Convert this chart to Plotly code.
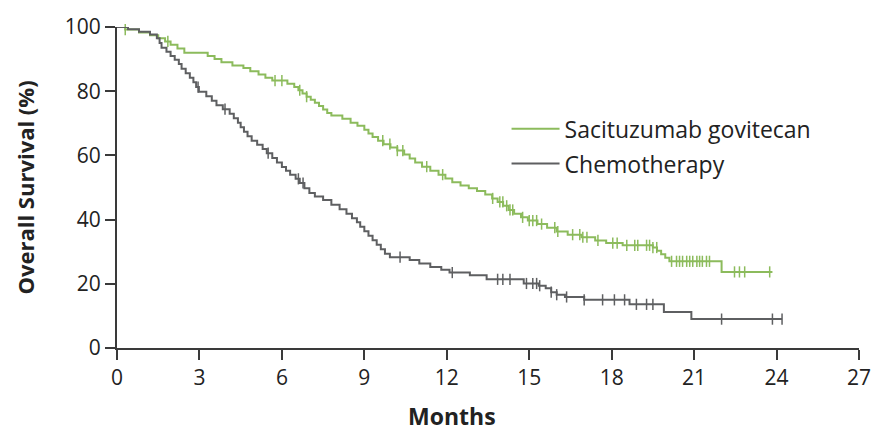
import numpy as np
import plotly.graph_objects as go

# ---- data ----
sg_time = [0, 0.3, 0.8, 1.2, 1.5, 1.75, 1.95, 2.2, 2.45, 3.3, 3.55, 3.8, 4.2, 4.6, 4.85,
           5.15, 5.4, 5.65, 6.2, 6.45, 6.6, 6.75, 6.9, 7.05, 7.2, 7.35, 7.5, 7.65, 7.8,
           8.2, 8.5, 8.75, 9.0, 9.15, 9.3, 9.5, 9.7, 9.95, 10.2, 10.45, 10.65, 10.85,
           11.1, 11.4, 11.7, 11.95, 12.2, 12.5, 12.8, 13.1, 13.4, 13.65, 13.85, 14.05,
           14.25, 14.45, 14.7, 14.95, 15.3, 15.65, 16.0, 16.4, 16.9, 17.4, 17.8, 18.4,
           19.5, 19.65, 19.8, 19.95, 20.1, 22.0, 23.85]
sg_surv = [100, 99.2, 98.3, 97.4, 96.5, 95.5, 94.5, 93.3, 92.0, 91.0, 90.0, 89.0, 88.0,
           87.2, 86.2, 85.2, 84.2, 83.3, 82.3, 81.3, 80.3, 79.3, 78.3, 77.3, 76.4, 75.4,
           74.3, 73.2, 72.4, 71.4, 70.2, 69.2, 68.0, 66.8, 65.7, 64.6, 63.5, 62.5, 61.5,
           60.3, 59.0, 57.8, 56.5, 55.2, 54.0, 52.8, 51.6, 50.6, 49.8, 48.9, 47.8, 46.6,
           45.5, 44.3, 43.0, 41.8, 40.7, 39.7, 38.6, 37.5, 36.3, 35.3, 34.5, 33.5, 32.7,
           32.0, 31.3, 30.3, 29.2, 28.1, 27.0, 23.7, 23.7]
sg_censor = [0.3, 1.85, 5.75, 6.0, 6.65, 6.9, 9.67, 9.93, 10.2, 10.4, 11.27, 11.85,
             13.67, 13.93, 14.04, 14.18, 14.3, 14.4, 14.76, 15.0, 15.13, 15.27, 15.45,
             15.93, 16.04, 16.58, 16.84, 16.95, 17.1, 17.5, 18.04, 18.2, 18.55, 18.84,
             18.95, 19.27, 19.38, 19.5, 19.64, 20.18, 20.36, 20.47, 20.58, 20.73, 20.84,
             20.95, 21.1, 21.2, 21.3, 21.45, 21.56, 22.47, 22.65, 22.84, 23.75]

ch_time = [0, 0.4, 0.8, 1.2, 1.45, 1.55, 1.62, 1.8, 1.95, 2.1, 2.25, 2.35, 2.5, 2.65,
           2.78, 2.88, 2.98, 3.25, 3.45, 3.62, 3.85, 4.1, 4.25, 4.4, 4.5, 4.62, 4.75,
           4.9, 5.1, 5.3, 5.45, 5.65, 5.82, 6.0, 6.15, 6.3, 6.5, 6.65, 6.82, 7.0, 7.2,
           7.5, 7.8, 8.1, 8.35, 8.55, 8.73, 8.85, 9.0, 9.15, 9.3, 9.45, 9.6, 9.75, 9.93,
           10.65, 11.0, 11.4, 11.8, 12.1, 12.84, 13.45, 14.8, 15.35, 15.6, 15.8, 16.0,
           16.3, 17.0, 18.65, 19.9, 20.9, 24.2]
ch_surv = [100, 99.3, 98.5, 97.7, 96.5, 95.0, 93.5, 92.3, 91.0, 89.8, 88.5, 87.0, 85.6,
           84.2, 82.8, 81.3, 79.8, 78.4, 77.0, 75.6, 74.4, 73.0, 71.6, 70.2, 68.8, 67.4,
           66.0, 64.6, 63.3, 62.0, 60.7, 59.2, 57.8, 56.4, 55.2, 54.0, 52.7, 51.4, 49.8,
           48.3, 47.2, 46.1, 44.6, 43.2, 41.8, 40.4, 39.2, 37.8, 36.4, 35.0, 33.6, 32.2,
           30.8, 29.4, 28.3, 27.4, 26.3, 25.2, 24.4, 23.5, 22.7, 21.4, 20.1, 19.4, 18.6,
           17.4, 16.6, 15.9, 15.0, 13.6, 11.2, 9.0, 9.0]
ch_censor = [2.95, 3.93, 5.5, 6.6, 6.77, 10.3, 12.2, 13.85, 14.04, 14.3, 14.9, 15.13,
             15.27, 15.38, 15.8, 16.0, 16.36, 17.0, 17.67, 18.1, 18.47, 18.9, 19.27,
             19.5, 22.0, 23.85, 24.2]

x_ticks = [0, 3, 6, 9, 12, 15, 18, 21, 24, 27]
y_ticks = [0, 20, 40, 60, 80, 100]

GREEN = "#8cbb5c"
GRAY = "#5e5f61"
AXIS = "#3a3a3a"
FONT = "Open Sans"


def step_at(times, surv, t):
    idx = np.searchsorted(np.asarray(times), np.asarray(t), side="right") - 1
    return [surv[i] for i in idx]


fig = go.Figure()
for name, t, s, c, color in [("Sacituzumab govitecan", sg_time, sg_surv, sg_censor, GREEN),
                             ("Chemotherapy", ch_time, ch_surv, ch_censor, GRAY)]:
    fig.add_trace(go.Scatter(x=t, y=s, mode="lines", name=name, line_shape="hv",
                             legendgroup=name,
                             line=dict(color=color, width=2), cliponaxis=False))
    fig.add_trace(go.Scatter(x=c, y=step_at(t, s, c), mode="markers", showlegend=False,
                             legendgroup=name,
                             marker=dict(symbol="line-ns", size=8,
                                         line=dict(color=color, width=1.5)),
                             cliponaxis=False))

fig.update_layout(
    width=873, height=432,
    margin=dict(l=117, r=14, t=27, b=84),
    paper_bgcolor="white", plot_bgcolor="white",
    font=dict(family=FONT, size=21, color="#222"),
    showlegend=True,
    legend=dict(x=0.525, y=0.75, xanchor="left", yanchor="top",
                font=dict(family=FONT, size=23, color="#222"),
                bgcolor="rgba(0,0,0,0)", tracegroupgap=2, itemwidth=48),
)
fig.add_annotation(text="<b>Months</b>", xref="paper", yref="paper", x=0.4515, y=-0.212,
                   xanchor="center", yanchor="middle", showarrow=False,
                   font=dict(family=FONT, size=23, color="#222"))
fig.update_xaxes(range=[0, 27], tickvals=x_ticks, ticktext=[str(v) for v in x_ticks],
                 showline=True, linecolor=AXIS, linewidth=2, ticks="outside",
                 ticklen=10, tickwidth=1.5, tickcolor=AXIS, showgrid=False, zeroline=False,
                 automargin=False)
fig.update_yaxes(range=[0, 100], tickvals=y_ticks, ticktext=[str(v) for v in y_ticks],
                 showline=True, linecolor=AXIS, linewidth=2, ticks="outside",
                 ticklen=10, tickwidth=1.5, tickcolor=AXIS, showgrid=False, zeroline=False,
                 automargin=False,
                 title=dict(text="<b>Overall Survival (%)</b>", font=dict(family=FONT, size=22),
                            standoff=24))

fig.write_html("out.html", config={"displayModeBar": False},
               post_script="document.body.style.margin='0';document.body.style.overflow='hidden';")
